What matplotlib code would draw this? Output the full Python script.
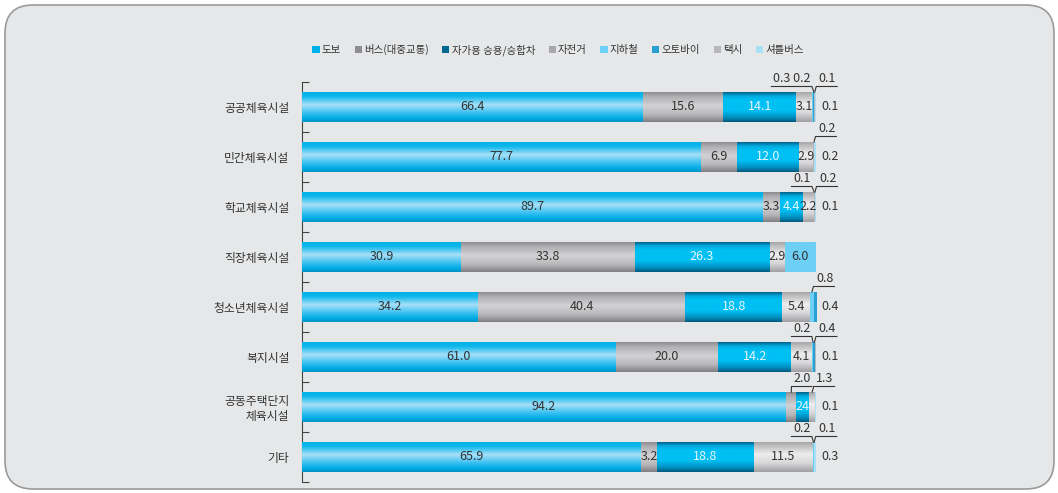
import matplotlib.pyplot as plt
import numpy as np
from matplotlib.patches import FancyBboxPatch, Patch
from matplotlib.colors import to_rgb

plt.rcParams['font.family'] = ['Noto Sans CJK KR', 'DejaVu Sans']

categories = ['공공체육시설', '민간체육시설', '학교체육시설', '직장체육시설',
              '청소년체육시설', '복지시설', '공동주택단지\n체육시설', '기타']
modes = ['도보', '버스(대중교통)', '자가용 승용/승합차', '자전거',
         '지하철', '오토바이', '택시', '셔틀버스']

walk = [66.4, 77.7, 89.7, 30.9, 34.2, 61.0, 94.2, 65.9]
bus = [15.6, 6.9, 3.3, 33.8, 40.4, 20.0, 2.0, 3.2]
car = [14.1, 12.0, 4.4, 26.3, 18.8, 14.2, 2.4, 18.8]
bike = [3.1, 2.9, 2.2, 2.9, 5.4, 4.1, 1.3, 11.5]
subway = [0.3, 0.0, 0.1, 6.0, 0.8, 0.2, 0.0, 0.2]
motorbike = [0.2, 0.0, 0.0, 0.0, 0.4, 0.4, 0.0, 0.0]
taxi = [0.1, 0.2, 0.2, 0.0, 0.0, 0.1, 0.0, 0.1]
shuttle = [0.1, 0.2, 0.1, 0.0, 0.0, 0.0, 0.1, 0.3]

series = [walk, bus, car, bike, subway, motorbike, taxi, shuttle]

base_colors = ['#00b0e8', '#8e8e90', '#006890', '#a8a8aa',
               '#6dd0f5', '#2a9fd3', '#b8b8ba', '#a9e0f7']
# vertical gradient stops (top -> bottom) giving the tube-like look
stops = [
    [(0, '#00b0e8'), (0.15, '#12b8ec'), (0.42, '#a8e0f8'), (0.7, '#38c0f0'), (0.88, '#00ace4'), (1, '#0094c6')],
    [(0, '#8e8e90'), (0.15, '#b0b0b2'), (0.45, '#d2d2d4'), (0.75, '#b8b8ba'), (1, '#808082')],
    [(0, '#00628a'), (0.12, '#00a8dc'), (0.25, '#00bff2'), (0.62, '#00bff2'), (0.85, '#0090c0'), (1, '#005a80')],
    [(0, '#a8a8aa'), (0.4, '#eeeeee'), (0.7, '#d8d8da'), (1, '#a0a0a2')],
    [(0, '#6dd0f5'), (1, '#6dd0f5')],
    [(0, '#2a9fd3'), (1, '#2a9fd3')],
    [(0, '#b8b8ba'), (1, '#b8b8ba')],
    [(0, '#a9e0f7'), (1, '#a9e0f7')],
]
text_colors = ['#333333', '#333333', '#e8f7ff', '#333333',
               '#333333', '#333333', '#333333', '#333333']


def gradient(st, n=64):
    pos = np.array([p for p, _ in st])
    cols = np.array([to_rgb(c) for _, c in st])
    tt = np.linspace(0, 1, n)
    g = np.stack([np.interp(tt, pos, cols[:, k]) for k in range(3)], axis=1)
    return g[:, None, :]


fig = plt.figure(figsize=(10.58, 4.93), dpi=100)
fig.patch.set_facecolor('white')

# rounded grey panel behind everything (pixel coordinates)
bg = fig.add_axes([0, 0, 1, 1], zorder=-5)
bg.set_xlim(0, 1058)
bg.set_ylim(493, 0)
bg.axis('off')
bg.add_patch(FancyBboxPatch((5, 5), 1049, 484, boxstyle='round,pad=0,rounding_size=28',
                            facecolor='#e6e7e8', edgecolor='#9a9a9a', linewidth=1.2))

ax = fig.add_axes([302 / 1058, 11 / 493, 514 / 1058, 400 / 493])
ax.set_facecolor('none')

y = np.arange(len(categories))
h = 0.6

left = np.zeros(len(categories))
for i, vals in enumerate(series):
    vals = np.array(vals)
    grad = gradient(stops[i])
    bars = ax.barh(y, vals, h, left=left, color=base_colors[i], linewidth=0, zorder=2)
    for b in bars:
        if b.get_width() <= 0:
            continue
        x0, y0 = b.get_x(), b.get_y()
        im = ax.imshow(grad, extent=(x0, x0 + b.get_width(), y0 + h, y0),
                       aspect='auto', interpolation='bilinear', zorder=3)
        im.set_clip_path(b)
    for j, v in enumerate(vals):
        if v >= 2.1:
            ax.text(left[j] + v / 2, j, f'{v:.1f}' if v != 2.4 else '24', ha='center', va='center',
                    fontsize=9, color=text_colors[i], zorder=5)
    left += vals

ax.set_xlim(0, 100)
ax.set_ylim(7.5, -0.5)
ax.set_yticks(y)
ax.set_yticklabels(categories, fontsize=8.5, color='#333333', linespacing=1.15)
ax.set_yticks(np.arange(-0.5, 8, 1), minor=True)
ax.tick_params(axis='y', which='major', length=0, pad=9)
ax.tick_params(axis='y', which='minor', length=5, direction='in', color='#444444', width=0.8)
ax.xaxis.set_visible(False)
for s in ['top', 'right', 'bottom']:
    ax.spines[s].set_visible(False)
ax.spines['left'].set_color('#444444')
ax.spines['left'].set_linewidth(0.8)

# small values: leader-line labels above the bar end and one to the right
fig.canvas.draw()
r = fig.canvas.get_renderer()
inv = ax.transData.inverted()


def width_data(txt):
    e = txt.get_window_extent(r)
    a = inv.transform((e.x0, e.y0))
    b = inv.transform((e.x1, e.y0))
    return b[0] - a[0]


lc = '#333333'
for j in range(len(categories)):
    cum = np.cumsum([s[j] for s in series])
    small = [(i, series[i][j]) for i in range(len(series)) if 0 < series[i][j] < 2.1]
    if not small:
        continue
    side = small[-1]
    ax.text(101.0, j, f'{side[1]:.1f}', ha='left', va='center', fontsize=9,
            color='#333333', clip_on=False)
    rest = small[:-1]
    if not rest:
        continue
    y_top = j - h / 2
    y_u = j - 0.41
    right_grp = rest[-1]
    left_grp = rest[:-1]
    ar = cum[right_grp[0]] - right_grp[1] / 2
    tx = ax.text(ar + 0.8, y_u - 0.02, f'{right_grp[1]:.1f}', ha='left', va='bottom',
                 fontsize=9, color='#333333', clip_on=False)
    wd = width_data(tx)
    ax.plot([ar, ar + 0.3, ar + 0.8 + wd + 0.2], [y_top, y_u, y_u], color=lc,
            lw=0.8, clip_on=False, zorder=6)
    if left_grp:
        al = cum[left_grp[-1][0]] - left_grp[-1][1] / 2
        label = ' '.join(f'{v:.1f}' for _, v in left_grp)
        tl = ax.text(99.0, y_u - 0.02, label, ha='right', va='bottom', fontsize=9,
                     color='#333333', clip_on=False)
        wl = width_data(tl)
        x_start = 99.0 - wl - 0.4
        if al < x_start + 1:
            ax.plot([al, x_start, 99.2], [y_top, y_u, y_u], color=lc, lw=0.8,
                    clip_on=False, zorder=6)
        else:
            ax.plot([x_start, 99.2, al], [y_u, y_u, y_top], color=lc, lw=0.8,
                    clip_on=False, zorder=6)

handles = [Patch(facecolor=base_colors[i], edgecolor='none') for i in range(len(modes))]
fig.legend(handles, modes, loc='center', bbox_to_anchor=(558 / 1058, 1 - 50 / 493),
           ncol=8, frameon=False, fontsize=7.5, handlelength=0.7, handleheight=0.7,
           handletextpad=0.2, columnspacing=1.3, labelcolor='#333333')

plt.savefig('out.png', dpi=100, facecolor=fig.get_facecolor())
